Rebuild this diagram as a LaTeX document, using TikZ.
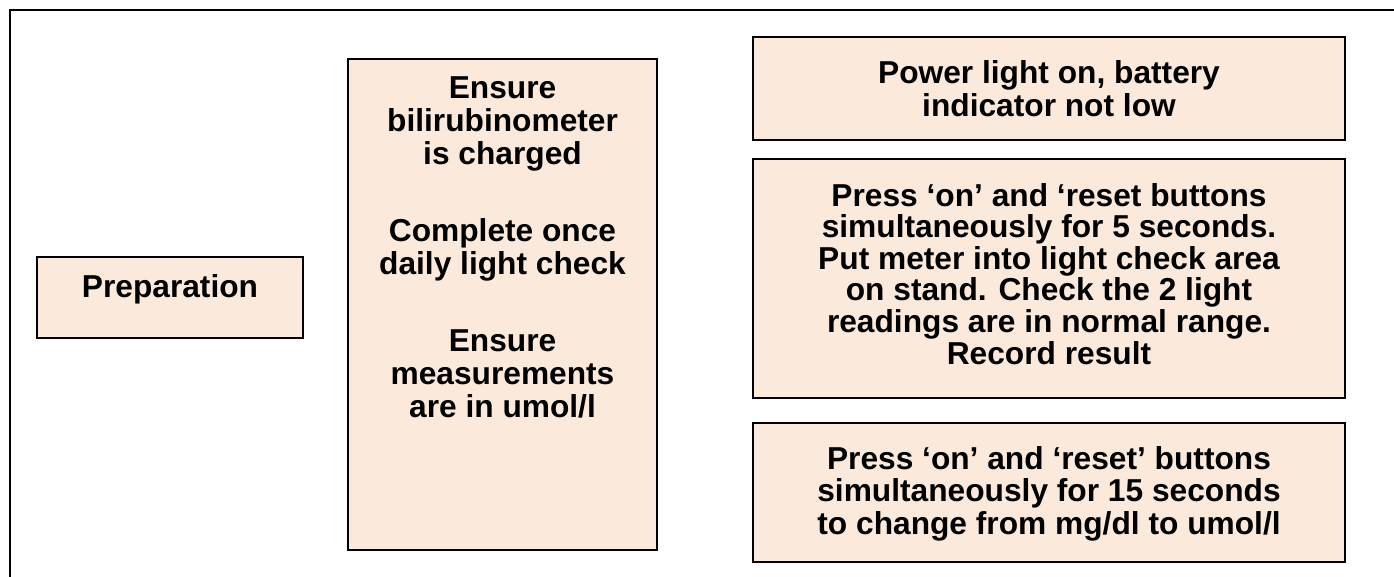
\documentclass[tikz,border=0pt]{standalone}
\usepackage{fontspec}
\setmainfont{Liberation Sans}
\definecolor{peach}{HTML}{FBEADB}
\begin{document}
\begin{tikzpicture}[x=1pt,y=-1pt,
  box/.style={draw=black, line width=2pt, fill=peach, inner sep=0pt},
  txt/.style={align=center, inner sep=0pt, anchor=north, font=\fontsize{31.7}{33}\selectfont\bfseries}]
\useasboundingbox (0,0) rectangle (1394,576);
\clip (0,0) rectangle (1394,576);
\fill[white] (0,0) rectangle (1394,576);
\coordinate (fb) at (10,600);
\coordinate (fc) at (10,10);
\coordinate (fr) at (1420,10);
\draw[line width=2.5pt] (fb) -- (fc) -- (fr);
% boxes
\node[box, minimum width=266pt, minimum height=81pt] (prep) at (170,297.5) {};
\node[box, minimum width=309pt, minimum height=491pt] (mid) at (502.5,304.5) {};
\node[box, minimum width=592pt, minimum height=103pt] (r1) at (1049,88.5) {};
\node[box, minimum width=592pt, minimum height=239pt] (r2) at (1049,278.5) {};
\node[box, minimum width=592pt, minimum height=139pt] (r3) at (1049,492.5) {};
% texts
\node[txt] (preptxt) at ([yshift=-18pt]prep.north) {Preparation};
\node[txt] (midtxt) at ([yshift=-18pt]mid.north) {Ensure\\bilirubinometer\\is charged\\[44pt]Complete once\\daily light check\\[44pt]Ensure\\measurements\\are in umol/l};
\node[txt] (r1txt) at ([yshift=-24pt]r1.north) {Power light on, battery\\indicator not low};
\node[txt, font=\fontsize{31.7}{31.6}\selectfont\bfseries] (r2txt) at ([yshift=-25pt]r2.north) {Press ‘on’ and ‘reset buttons\\simultaneously for 5 seconds.\\Put meter into light check area\\on stand. Check the 2 light\\readings are in normal range.\\Record result};
\node[txt, font=\fontsize{31.7}{32.5}\selectfont\bfseries] (r3txt) at ([yshift=-24pt]r3.north) {Press ‘on’ and ‘reset’ buttons\\simultaneously for 15 seconds\\to change from mg/dl to umol/l};
\end{tikzpicture}
\end{document}
